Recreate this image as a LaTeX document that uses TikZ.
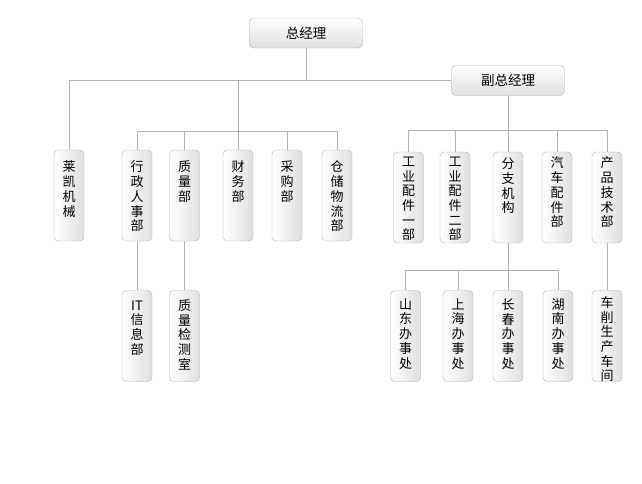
\documentclass[tikz,border=0pt]{standalone}
\usepackage{fontspec}
\newfontfamily\cjk{Noto Sans CJK SC}
\newcommand{\vtxt}[2][11pt]{\parbox[c][91pt][t]{16pt}{\centering\vskip #1 #2}}

\begin{document}
\begin{tikzpicture}[x=1pt,y=-1pt,
        head/.style={draw=gray!60,rectangle,rounded corners=1.5mm,top color=white,bottom color=gray!25,minimum width=113pt,minimum height=30pt,font=\cjk\fontsize{13.5}{15}\selectfont},
        dept/.style={draw=gray!60,rectangle,rounded corners=1.5mm,left color=white,right color=gray!25,inner sep=0pt,minimum width=30pt,font=\cjk\fontsize{13}{14.7}\selectfont},
        link/.style={draw=gray!60,line width=0.8pt}
      ]
      \useasboundingbox (0,0) rectangle (642,483);
      \node[head] (zjl) at (306,33) {总经理};
      \node[head] (fzjl) at (508,80.5) {副总经理};
      % Left branch.
      \node[dept] (lk) at (69,195.5) {\vtxt{莱\\凯\\机\\械}};
      \node[dept] (xz) at (137,195.5) {\vtxt{行\\政\\人\\事\\部}};
      \node[dept] (zl) at (184.5,195.5) {\vtxt{质\\量\\部}};
      \node[dept] (cw) at (238,195.5) {\vtxt{财\\务\\部}};
      \node[dept] (cg) at (287,195.5) {\vtxt{采\\购\\部}};
      \node[dept] (cc) at (337,195.5) {\vtxt{仓\\储\\物\\流\\部}};
      \node[dept] (it) at (137,336) {\vtxt[10pt]{IT\\信\\息\\部}};
      \node[dept] (zj) at (184.5,336) {\vtxt[9pt]{质\\量\\检\\测\\室}};
      % Right branch.
      \node[dept] (gy1) at (408.5,197.5) {\vtxt[5pt]{工\\业\\配\\件\\一\\部}};
      \node[dept] (gy2) at (455,197.5) {\vtxt[5pt]{工\\业\\配\\件\\二\\部}};
      \node[dept] (fz) at (508,197.5) {\vtxt[6pt]{分\\支\\机\\构}};
      \node[dept] (qc) at (557,197.5) {\vtxt[5pt]{汽\\车\\配\\件\\部}};
      \node[dept] (cp) at (607,197.5) {\vtxt[5pt]{产\\品\\技\\术\\部}};
      \node[dept] (sd) at (405.5,336) {\vtxt[8pt]{山\\东\\办\\事\\处}};
      \node[dept] (sh) at (458,336) {\vtxt[8pt]{上\\海\\办\\事\\处}};
      \node[dept] (cch) at (508,336) {\vtxt[8pt]{长\\春\\办\\事\\处}};
      \node[dept] (hn) at (558,336) {\vtxt[8pt]{湖\\南\\办\\事\\处}};
      \node[dept] (cx) at (607,336) {\vtxt[6pt]{车\\削\\生\\产\\车\\间}};
      % Connections.
      \draw[link] (zjl.south) |- (fzjl.west);
      \draw[link] (lk.north) |- (fzjl.west);
      \draw[link] (cw.north) -- (cw.north |- fzjl.west);
      \draw[link] (xz.north) -- ++(0,-18) -| (cc.north);
      \draw[link] (zl.north) -- ++(0,-18);
      \draw[link] (cg.north) -- ++(0,-18);
      \draw[link] (xz.south) -- (it.north);
      \draw[link] (zl.south) -- (zj.north);
      \draw[link] (fzjl.south) -- (fz.north);
      \draw[link] (gy1.north) -- ++(0,-21) -| (cp.north);
      \draw[link] (gy2.north) -- ++(0,-21);
      \draw[link] (qc.north) -- ++(0,-21);
      \draw[link] (fz.south) -- (cch.north);
      \draw[link] (sd.north) -- ++(0,-20) -| (hn.north);
      \draw[link] (sh.north) -- ++(0,-20);
      \draw[link] (cp.south) -- (cx.north);
    \end{tikzpicture}
\end{document}
